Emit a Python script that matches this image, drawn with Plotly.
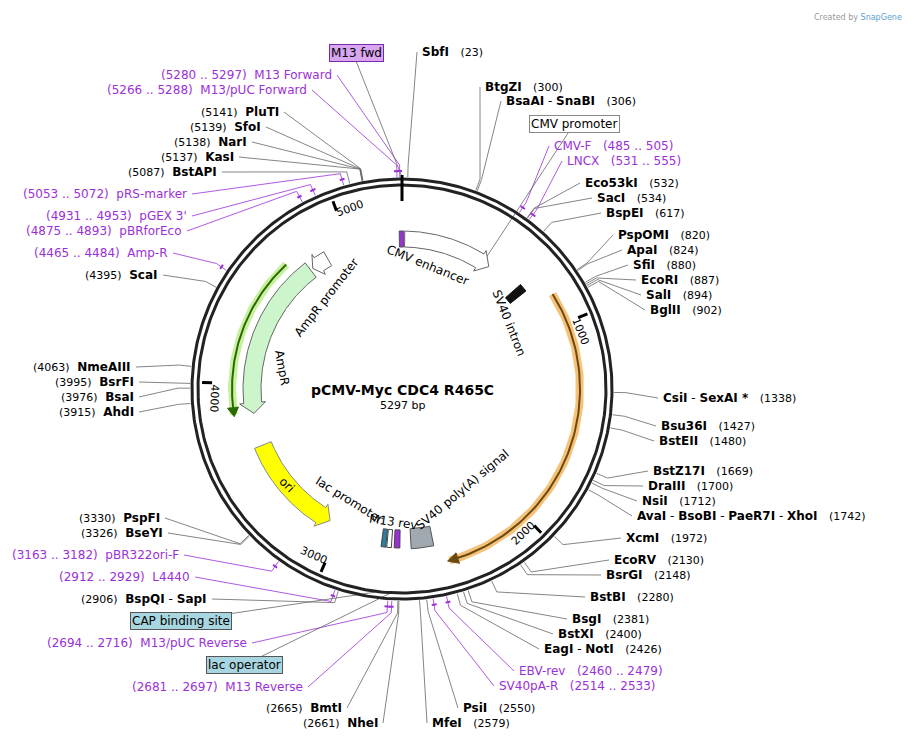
import numpy as np
import plotly.graph_objects as go

TOTAL = 5297
CX, CY = 403, 389
R = 210

right_names = ["SbfI","BtgZI","BsaAI - SnaBI","CMV-F","LNCX","Eco53kI","SacI","BspEI","PspOMI","ApaI","SfiI","EcoRI","SalI","BglII",
               "CsiI - SexAI *","Bsu36I","BstEII","BstZ17I","DraIII","NsiI","AvaI - BsoBI - PaeR7I - XhoI","XcmI","EcoRV","BsrGI",
               "BstBI","BsgI","BstXI","EagI - NotI","EBV-rev","SV40pA-R","PsiI","MfeI"]
right_pos = [23,300,306,"485 .. 505","531 .. 555",532,534,617,820,824,880,887,894,902,1338,1427,1480,1669,1700,1712,1742,1972,2130,2148,
             2280,2381,2400,2426,"2460 .. 2479","2514 .. 2533",2550,2579]
right_site = [23,300,306,495,543,532,534,617,820,824,880,887,894,902,1338,1427,1480,1669,1700,1712,1742,1972,2130,2148,
              2280,2381,2400,2426,2470,2524,2550,2579]
right_x = [421,484,505,553,566,584,596,605,617,626,632,640,645,649,662,660,658,652,647,641,636,625,613,605,589,571,557,543,518,498,462,431]
right_y = [52,87,101,146,161,183,198,213,235,250,265,280,295,310,398,426,441,471,486,501,516,538,560,575,597,619,634,649,671,686,708,723]

left_names = ["M13 Forward","M13/pUC Forward","PluTI","SfoI","NarI","KasI","BstAPI","pRS-marker","pGEX 3'","pBRforEco","Amp-R","ScaI",
              "NmeAIII","BsrFI","BsaI","AhdI","PspFI","BseYI","pBR322ori-F","L4440","BspQI - SapI","M13/pUC Reverse","M13 Reverse","BmtI","NheI"]
left_pos = ["5280 .. 5297","5266 .. 5288",5141,5139,5138,5137,5087,"5053 .. 5072","4931 .. 4953","4875 .. 4893","4465 .. 4484",4395,
            4063,3995,3976,3915,3330,3326,"3163 .. 3182","2912 .. 2929",2906,"2694 .. 2716","2681 .. 2697",2665,2661]
left_site = [5288,5277,5141,5139,5138,5137,5087,5062,4942,4884,4474,4395,4063,3995,3976,3915,3330,3326,3172,2920,2906,2705,2689,2665,2661]
left_x = [335,310,282,264,250,237,220,190,190,185,171,161,134,137,137,137,163,166,182,193,210,250,306,345,381]
left_y = [75,90,112,127,142,157,172,194,216,231,253,275,367,382,397,412,518,533,555,577,599,643,687,708,723]

primer_ranges = [(5280,5297),(5266,5288),(5053,5072),(4931,4953),(4875,4893),(4465,4484),(3163,3182),(2912,2929),
                 (2694,2716),(2681,2697),(485,505),(531,555),(2460,2479),(2514,2533)]

boxes = [("M13 fwd",5297,212,357,53,"#d9a6f2","#7a2aa8","#000"),
         ("CMV promoter",480,152,575,124,"#ffffff","#888","#000"),
         ("CAP binding site",2760,205,182,621,"#a8d6e0","#555","#000"),
         ("lac operator",2700,205,245,665,"#a8d6e0","#555","#000")]

ticks = [1000,2000,3000,4000,5000]

PURPLE = "#9b30d9"


def pt(bp, r):
    t = np.deg2rad(np.asarray(bp, dtype=float) / TOTAL * 360)
    return CX + r * np.sin(t), CY - r * np.cos(t)


def arcxy(b1, b2, r, n=80):
    bs = np.linspace(b1, b2, n)
    return pt(bs, r)


def arrow_poly(b1, b2, r, w, head=60, tip=True):
    s = 1 if b2 > b1 else -1
    bend = b2 - s * head if tip else b2
    xo, yo = arcxy(b1, bend, r + w / 2)
    xi, yi = arcxy(bend, b1, r - w / 2)
    xs, ys = list(xo), list(yo)
    if tip:
        for bb, rr in [(bend, r + w / 2 + 4), (b2, r), (bend, r - w / 2 - 4)]:
            x, y = pt(bb, rr); xs.append(float(x)); ys.append(float(y))
    xs += list(xi); ys += list(yi)
    xs.append(xs[0]); ys.append(ys[0])
    return xs, ys


fig = go.Figure()


def poly(xs, ys, fill, line, lw=1):
    fig.add_trace(go.Scatter(x=xs, y=ys, mode="lines", fill="toself", fillcolor=fill,
                             line=dict(color=line, width=lw), hoverinfo="skip", showlegend=False))


def line(xs, ys, color, w=1, dash=None):
    fig.add_trace(go.Scatter(x=xs, y=ys, mode="lines", line=dict(color=color, width=w, dash=dash),
                             hoverinfo="skip", showlegend=False))

lx, ly, px_, py_ = [], [], [], []
for names, sites, xs, ys, side in [(right_names, right_site, right_x, right_y, 1), (left_names, left_site, left_x, left_y, -1)]:
    for i, (n, s) in enumerate(zip(names, sites)):
        x1, y1 = pt(s, R + 2); x2, y2 = pt(s, R + 14)
        x3 = xs[i] - 3 if side == 1 else xs[i] + 3
        isp = isinstance((right_pos if side == 1 else left_pos)[i], str)
        tx, ty = (px_, py_) if isp else (lx, ly)
        tx += [float(x1), float(x2), x3, None]; ty += [float(y1), float(y2), ys[i], None]
line(lx, ly, "#666", 0.8)
line(px_, py_, PURPLE, 0.8)
bx, by = [], []
for t, s, rr, x, y, *_ in boxes:
    x1, y1 = pt(s, rr); bx += [float(x1), x, None]; by += [float(y1), y + 8 if y < 389 and rr > 200 else y, None]
line(bx, by, "#666", 0.8)

for a, b in primer_ranges:
    x, y = arcxy(a, b, R + 8, 10); line(list(x), list(y), PURPLE, 2)

x, y = arcxy(0, TOTAL, R, 400); line(list(x), list(y), "#222", 3)
x, y = arcxy(0, TOTAL, R - 6, 400); line(list(x), list(y), "#222", 3)

for t in ticks:
    x1, y1 = pt(t, R - 10); x2, y2 = pt(t, R - 20)
    line([float(x1), float(x2)], [float(y1), float(y2)], "#000", 3)
x1, y1 = pt(0, R + 4); x2, y2 = pt(0, R - 22)
line([float(x1), float(x2)], [float(y1), float(y2)], "#000", 3)

x, y = arcxy(4665, 3845, 170); line(list(x), list(y), "#c8f0a0", 8)
line(list(x), list(y), "#2a6b00", 2)
poly(*arrow_poly(3880, 3835, 170, 3, head=45), "#2a6b00", "#2a6b00")
x, y = arcxy(850, 2420, 178); line(list(x), list(y), "#f6c27a", 8)
line(list(x), list(y), "#6b4a10", 2)
poly(*arrow_poly(2380, 2430, 178, 3, head=50), "#6b4a10", "#6b4a10")
poly(*arrow_poly(15, 520, 150, 16, head=60), "#ffffff", "#666")
poly(*arrow_poly(-15, 10, 150, 16, tip=False), "#9b30d9", "#555")
poly(*arrow_poly(715, 760, 148, 20, tip=False), "#111", "#111")
poly(*arrow_poly(2480, 2600, 150, 20, tip=False), "#a0a8b0", "#555")
poly(*arrow_poly(2660, 2690, 150, 18, tip=False), "#9b30d9", "#444")
poly(*arrow_poly(2705, 2730, 150, 18, tip=False), "#ffffff", "#444")
poly(*arrow_poly(2735, 2760, 150, 18, tip=False), "#2a7fa0", "#444")
poly(*arrow_poly(3650, 3070, 150, 18, head=60), "#ffff00", "#888")
poly(*arrow_poly(4745, 3835, 150, 18, head=60), "#ccf5cc", "#666")
poly(*arrow_poly(4860, 4760, 150, 16, head=40), "#ffffff", "#666")

ann = []


def A(x, y, text, xa="center", color="#000", size=12, angle=0, **kw):
    ann.append(dict(x=x, y=y, text=text, xanchor=xa, yanchor="middle", showarrow=False, textangle=angle,
                    font=dict(color=color, size=size, family="DejaVu Sans"), **kw))

for names, pos, xs, ys, side in [(right_names, right_pos, right_x, right_y, 1), (left_names, left_pos, left_x, left_y, -1)]:
    for n, p, x, y in zip(names, pos, xs, ys):
        if isinstance(p, str):
            txt = f"{n}   ({p})" if side == 1 else f"({p})  {n}"
            A(x, y, txt, "left" if side == 1 else "right", PURPLE, 12)
        else:
            nm = " - ".join(f"<b>{k}</b>" for k in n.split(" - "))
            txt = f"{nm}   <span style='font-size:11px'>({p})</span>" if side == 1 else f"<span style='font-size:11px'>({p})</span>  {nm}"
            A(x, y, txt, "left" if side == 1 else "right", "#000", 12)

for t, s, rr, x, y, bg, bc, fc in boxes:
    A(x, y, t, "center", fc, 12, bgcolor=bg, bordercolor=bc, borderwidth=1, borderpad=1)

for t in ticks:
    th = t / TOTAL * 360
    ang = th if th <= 90 else (th - 180 if th <= 280 else th - 360)
    x, y = pt(t + (60 if t != 4000 else -70), R - 22)
    A(float(x), float(y), str(t), "center", "#000", 11, ang)

A(428, 265, "CMV enhancer", angle=22)
A(510, 323, "SV40 intron", angle=68)
A(327, 298, "AmpR promoter", angle=-52)
A(283, 368, "AmpR", angle=80)
A(288, 485, "ori", angle=45)
A(350, 500, "lac promoter", angle=32)
A(394, 522, "M13 rev", angle=8)
A(463, 490, "SV40 poly(A) signal", angle=-40)
A(403, 390, "<b>pCMV-Myc CDC4 R465C</b>", size=14)
A(403, 405, "5297 bp", size=11)
A(905, 17, "Created by <span style='color:#5aa0d0'>SnapGene</span>", "right", "#999", 8)

fig.update_layout(width=914, height=742, margin=dict(l=0, r=0, t=0, b=0), plot_bgcolor="white", paper_bgcolor="white",
                  xaxis=dict(range=[9, 923], visible=False, fixedrange=True),
                  yaxis=dict(range=[750, 8], visible=False, fixedrange=True),
                  annotations=ann, showlegend=False)
fig.write_html("out.html")
